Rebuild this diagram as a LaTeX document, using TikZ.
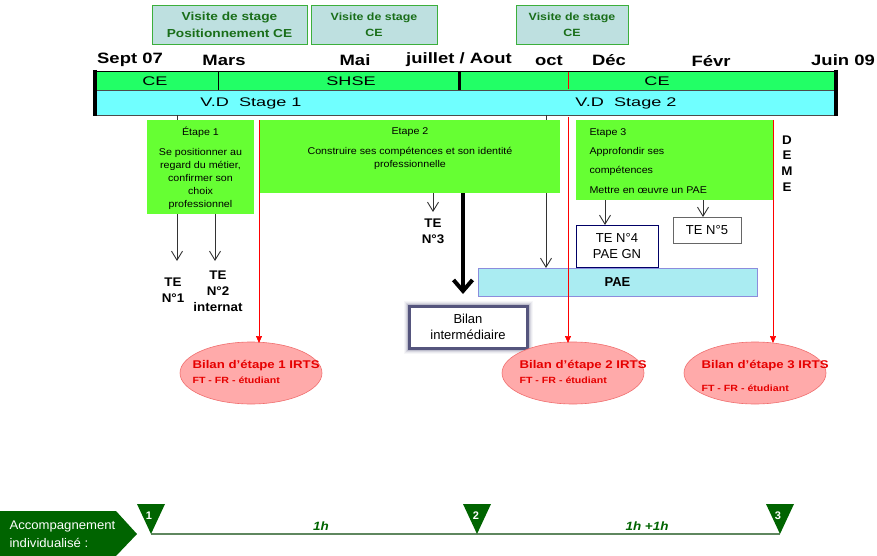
\documentclass[tikz,border=0pt]{standalone}
\usepackage{fontspec}
\setmainfont{Liberation Sans}
\newfontfamily\fMonth[FakeStretch=1.23]{Liberation Sans}
\newfontfamily\fVis[FakeStretch=1.18]{Liberation Sans}
\newfontfamily\fBar[FakeStretch=1.45]{Liberation Sans}
\newfontfamily\fEt[FakeStretch=1.09]{Liberation Sans}
\newfontfamily\fTe[FakeStretch=1.07]{Liberation Sans}
\newfontfamily\fEll[FakeStretch=1.18]{Liberation Sans}
\newfontfamily\fHr[FakeStretch=1.12]{Liberation Sans}
\newfontfamily\fAcc[FakeStretch=1.05]{Liberation Sans}
\usetikzlibrary{arrows.meta,shapes.geometric,calc}
\definecolor{barGreen}{RGB}{34,255,102}
\definecolor{barCyan}{RGB}{112,255,255}
\definecolor{etGreen}{RGB}{102,255,51}
\definecolor{visFill}{RGB}{190,224,224}
\definecolor{visDraw}{RGB}{60,175,60}
\definecolor{visText}{RGB}{25,110,25}
\definecolor{paeFill}{RGB}{170,236,242}
\definecolor{paeDraw}{RGB}{140,140,220}
\definecolor{ellFill}{RGB}{255,170,170}
\definecolor{ellDraw}{RGB}{240,110,110}
\definecolor{ellText}{RGB}{230,0,0}
\definecolor{dkGreen}{RGB}{0,100,0}
\definecolor{lineGreen}{RGB}{95,135,95}
\definecolor{glow}{RGB}{85,85,125}
\tikzset{
  box/.style={inner sep=0pt, outer sep=0pt, anchor=north west},
  visite/.style={box, draw=visDraw, line width=0.8pt, fill=visFill},
  vistext/.style={text=visText, font=\fVis\bfseries\fontsize{11.6}{17}\selectfont, align=center},
  month/.style={font=\fMonth\bfseries\fontsize{15}{17}\selectfont},
  bartext/.style={font=\fBar\fontsize{12.5}{15}\selectfont},
  etape/.style={box, fill=etGreen},
  etext/.style={font=\fEt\fontsize{9.8}{13}\selectfont, align=center},
  tetext/.style={font=\fTe\bfseries\fontsize{12.5}{16}\selectfont, align=center},
  arr/.style={draw=black!80, line width=0.9pt, -{Straight Barb[length=9pt,width=11pt]}},
  redarr/.style={draw=red, line width=0.7pt, -{Triangle[length=7pt,width=6pt]}},
  bilan/.style={ellipse, draw=ellDraw, fill=ellFill, line width=0.6pt, minimum width=142pt, minimum height=62pt, inner sep=0pt},
  btitle/.style={text=ellText, font=\fEll\bfseries\fontsize{11.2}{13}\selectfont, anchor=west},
  bsub/.style={text=ellText, font=\fEll\bfseries\fontsize{9}{10}\selectfont, anchor=west},
  tri/.style={fill=dkGreen},
  trinum/.style={text=white, font=\bfseries\fontsize{11}{12}\selectfont},
  hours/.style={text=dkGreen, font=\fHr\bfseries\itshape\fontsize{12}{14}\selectfont}
}
\begin{document}
\begin{tikzpicture}[x=1pt,y=-1pt]
\useasboundingbox (0,0) rectangle (877,556);

% Visite boxes
\node[visite, minimum width=155pt, minimum height=39pt] (v1) at (152,5) {};
\node[vistext] (v1t) at (v1.center) {Visite de stage\\Positionnement CE};
\node[visite, minimum width=126pt, minimum height=39pt] (v2) at (311,5) {};
\node[vistext, font=\fVis\bfseries\fontsize{10.5}{16}\selectfont] (v2t) at (v2.center) {Visite de stage\\CE};
\node[visite, minimum width=112pt, minimum height=39pt] (v3) at (516,5) {};
\node[vistext, font=\fVis\bfseries\fontsize{10.5}{16}\selectfont] (v3t) at (v3.center) {Visite de stage\\CE};

% Months
\node[month] (m1) at (130,60) {Sept 07};
\node[month] (m2) at (224,60) {Mars};
\node[month] (m3) at (355,60) {Mai};
\node[month] (m4) at (459,60) {juillet / Aout};
\node[month] (m5) at (549,61) {oct};
\node[month] (m6) at (609,60) {Déc};
\node[month] (m7) at (711,61) {Févr};
\node[month] (m8) at (843,60) {Juin 09};

% Bars
\node[box, draw=black, line width=0.6pt, fill=barGreen, minimum width=740pt, minimum height=19pt] (gbar) at (95,71) {};
\node[box, draw=black!70, line width=0.6pt, fill=barCyan, minimum width=740pt, minimum height=25pt] (cbar) at (95,90) {};
\coordinate (s1a) at (218,71); \coordinate (s1b) at (218,90);
\draw[black, line width=0.6pt] (s1a) -- (s1b);
\coordinate (s2a) at (459.5,71); \coordinate (s2b) at (459.5,90);
\draw[black, line width=3pt] (s2a) -- (s2b);
\coordinate (s3a) at (568,72); \coordinate (s3b) at (568,89);
\draw[red, line width=0.6pt] (s3a) -- (s3b);
\coordinate (lba) at (95,70); \coordinate (lbb) at (95,116);
\draw[black, line width=4pt] (lba) -- (lbb);
\coordinate (rba) at (836,70); \coordinate (rbb) at (836,116);
\draw[black, line width=4pt] (rba) -- (rbb);
\node[bartext] (ce1) at (155,81) {CE};
\node[bartext] (shse) at (351,81) {SHSE};
\node[bartext] (ce2) at (657,81) {CE};
\node[bartext] (vd1) at (251,103) {V.D\ \ Stage 1};
\node[bartext] (vd2) at (626,103) {V.D\ \ Stage 2};

% lines behind etape boxes
\coordinate (p0) at (546,115); \coordinate (p1) at (546,268);
\draw[arr] (p0) -- (p1);
\coordinate (a1) at (177,115); \coordinate (a1e) at (177,261);
\draw[arr] (a1) -- (a1e);
\coordinate (a2) at (215,214); \coordinate (a2e) at (215,261);
\draw[arr] (a2) -- (a2e);

% Etape boxes
\node[etape, minimum width=107pt, minimum height=94pt] (e1) at (147,120) {};
\node[etext] (e1t) at (200.5,132) {Étape 1};
\node[etext, anchor=north] (e1b) at (200.5,145) {Se positionner au\\regard du métier,\\confirmer son\\choix\\professionnel};
\node[etape, minimum width=300pt, minimum height=73pt] (e2) at (260,120) {};
\node[etext] (e2t) at (410,132) {Etape 2};
\node[etext, anchor=north] (e2b) at (410,144) {Construire ses compétences et son identité\\professionnelle};
\node[etape, minimum width=197pt, minimum height=80pt] (e3) at (576,120) {};
\node[etext, anchor=north west, align=left, font=\fEt\fontsize{9.8}{19.3}\selectfont] (e3t) at (586,125) {Etape 3\\Approfondir ses\\compétences\\Mettre en œuvre un PAE};

% DEME
\node[font=\fTe\bfseries\fontsize{12.5}{15.7}\selectfont, align=center, anchor=north] (deme) at (787,132) {D\\E\\M\\E};

% TE labels
\node[tetext, anchor=north] (te1) at (173,274) {TE\\N°1};
\node[tetext, anchor=north] (te2) at (218,267) {TE\\N°2\\internat};
\coordinate (a3) at (433,193); \coordinate (a3e) at (433,212);
\draw[arr] (a3) -- (a3e);
\node[tetext, anchor=north] (te3) at (433,215) {TE\\N°3};

% thick arrow
\coordinate (ta) at (463,193); \coordinate (tb) at (463,294);
\draw[black, line width=4pt, -{Straight Barb[length=11pt,width=19pt]}] (ta) -- (tb);

% PAE
\node[box, draw=paeDraw, line width=0.8pt, fill=paeFill, minimum width=279pt, minimum height=28pt] (pae) at (478,268) {};
\node[font=\bfseries\fontsize{13}{15}\selectfont] (paet) at (pae.center) {PAE};

% TE4, TE5
\node[box, draw=blue!40!black, line width=0.6pt, fill=white, minimum width=82pt, minimum height=42pt] (te4) at (576,225) {};
\node[font=\fontsize{13}{16}\selectfont, align=center] (te4t) at (te4.center) {TE N°4\\PAE GN};
\node[box, draw=black!60, line width=0.6pt, fill=white, minimum width=68pt, minimum height=26pt] (te5) at (673,217) {};
\node[font=\fontsize{13}{15}\selectfont] (te5t) at (te5.center) {TE N°5};
\coordinate (a4) at (605,200);
\draw[arr] (a4) -- (a4 |- te4.north);
\coordinate (a5) at (703,200);
\draw[arr] (a5) -- (a5 |- te5.north);

% Bilan intermediaire with glow
\foreach \w/\o in {11/0.05,9/0.08,7/0.12,5/0.2} {
  \draw[glow, line width=\w pt, opacity=\o] (409,306) rectangle (527,348);
}
\node[box, draw=glow, line width=3pt, fill=white, minimum width=118pt, minimum height=42pt] (bi) at (409,306) {};
\node[font=\fontsize{13}{16}\selectfont, align=center] (bit) at (bi.center) {Bilan\\intermédiaire};

% Bilan ellipses
\node[bilan] (b1) at (251,373) {};
\node[bilan] (b2) at (573,373) {};
\node[bilan] (b3) at (755,373) {};
\node[btitle] (b1t) at (189,366) {Bilan d’étape 1 IRTS};
\node[bsub] (b1s) at (189,380) {FT - FR - étudiant};
\node[btitle] (b2t) at (516,366) {Bilan d’étape 2 IRTS};
\node[bsub] (b2s) at (516,380) {FT - FR - étudiant};
\node[btitle] (b3t) at (698,366) {Bilan d’étape 3 IRTS};
\node[bsub] (b3s) at (698,388) {FT - FR - étudiant};

% Red arrows
\coordinate (r1) at (259,120); \coordinate (r1e) at (259,343);
\draw[redarr] (r1) -- (r1e);
\coordinate (r2) at (568,117); \coordinate (r2e) at (568,343);
\draw[redarr] (r2) -- (r2e);
\coordinate (r3) at (773,120); \coordinate (r3e) at (773,343);
\draw[redarr] (r3) -- (r3e);

% Bottom timeline
\fill[dkGreen] (0,511) -- (116,511) -- (137,534) -- (116,556) -- (0,556) -- cycle;
\node[text=white, font=\fAcc\fontsize{12.5}{18}\selectfont, align=left, anchor=west] (acct) at (6,534) {Accompagnement\\individualisé :};
\coordinate (k1) at (151,534); \coordinate (k2) at (477,534); \coordinate (k3) at (780,534);
\draw[lineGreen, line width=1.3pt] (k1) -- (k2) -- (k3);
\foreach \c in {k1,k2,k3} {
  \fill[tri] ($(\c)+(-14,-30)$) -- ($(\c)+(14,-30)$) -- (\c) -- cycle;
}
\node[trinum] (n1) at (149,516) {1};
\node[trinum] (n2) at (476,516) {2};
\node[trinum] (n3) at (778,516) {3};
\node[hours] (h1) at (321,526) {1h};
\node[hours] (h2) at (647,526) {1h +1h};
\end{tikzpicture}
\end{document}
